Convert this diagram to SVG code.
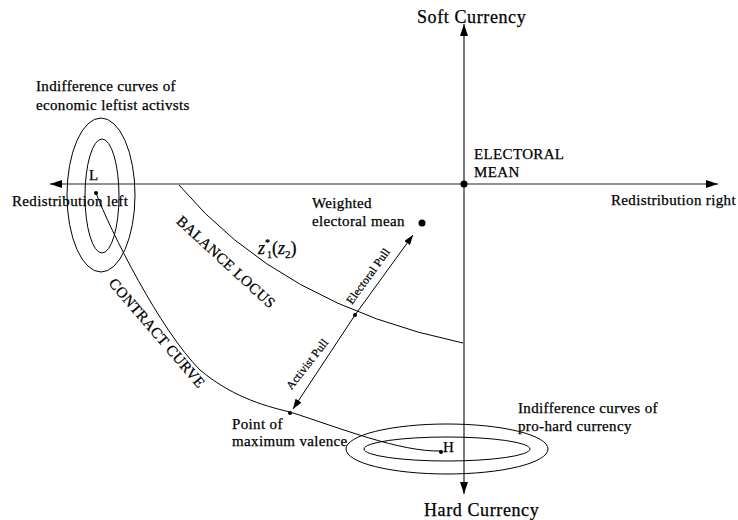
<svg xmlns="http://www.w3.org/2000/svg" width="738" height="520" viewBox="0 0 738 520">
<style>
text{font-family:"Liberation Serif","DejaVu Serif",serif;fill:#000;stroke:#000;stroke-width:0.25}
.t{font-size:15px;letter-spacing:0.35px}
.h{font-size:18px;letter-spacing:0.6px}
.s{font-size:11.5px;letter-spacing:0.2px}
.ax{stroke:#222;stroke-width:1.2;fill:none}
.c{stroke:#000;stroke-width:1;fill:none}
</style>
<defs>
<marker id="ah" markerWidth="12" markerHeight="8" refX="12" refY="4" orient="auto" markerUnits="userSpaceOnUse"><path d="M0,0L12,4L0,8Z" fill="#000"/></marker>
<marker id="sh" markerWidth="10" markerHeight="7" refX="10" refY="3.5" orient="auto" markerUnits="userSpaceOnUse"><path d="M0,0L10,3.5L0,7Z" fill="#000"/></marker>
</defs>
<g id="connectors">
<line class="ax" x1="464" y1="184" x2="50" y2="184" marker-end="url(#ah)"/>
<line class="ax" x1="464" y1="184" x2="718" y2="184" marker-end="url(#ah)"/>
<line class="ax" x1="464" y1="184" x2="464" y2="24" marker-end="url(#ah)"/>
<line class="ax" x1="464" y1="184" x2="464" y2="494" marker-end="url(#ah)"/>
<path id="contract" class="c" d="M96,193 C110,230 160,330 200,370 C230,395 260,405 290,412 C340,428 400,452 441,451"/>
<path id="balance" class="c" d="M179,185 Q280,305 463,343"/>
<line class="c" x1="355" y1="315" x2="413" y2="235" marker-end="url(#sh)"/>
<line class="c" x1="355" y1="315" x2="293" y2="409" marker-end="url(#sh)"/>
</g>
<g id="axis-labels">
<text class="h" x="417" y="23">Soft Currency</text>
<text class="h" x="424" y="516">Hard Currency</text>
<text class="t" x="12" y="206">Redistribution left</text>
<text class="t" x="611" y="205">Redistribution right</text>
</g>
<g id="electoral-mean">
<circle cx="464" cy="184" r="3.5" fill="#000"/>
<text class="t" x="474" y="159">ELECTORAL</text>
<text class="t" x="474" y="177">MEAN</text>
</g>
<g id="leftist">
<ellipse class="c" cx="101" cy="195" rx="34" ry="77"/>
<ellipse class="c" cx="102" cy="196" rx="17" ry="57"/>
<circle cx="96" cy="193" r="2" fill="#000"/>
<text class="t" x="89" y="180">L</text>
<text class="t" x="36" y="91">Indifference curves of</text>
<text class="t" x="36" y="110">economic leftist activsts</text>
</g>
<g id="hard">
<ellipse class="c" cx="447" cy="449" rx="101" ry="25"/>
<ellipse class="c" cx="447" cy="449" rx="83" ry="12"/>
<circle cx="441" cy="452" r="2" fill="#000"/>
<text class="t" x="443" y="452">H</text>
<text class="t" x="518" y="413">Indifference curves of</text>
<text class="t" x="518" y="431">pro-hard currency</text>
</g>
<g id="weighted-mean">
<circle cx="422" cy="223" r="3.5" fill="#000"/>
<text class="t" x="312" y="208">Weighted</text>
<text class="t" x="312" y="226">electoral mean</text>
</g>
<g id="balance-point">
<circle cx="355" cy="315" r="2" fill="#000"/>
</g>
<g id="max-valence">
<circle cx="290" cy="413" r="2" fill="#000"/>
<text class="t" x="232" y="429">Point of</text>
<text class="t" x="232" y="446">maximum valence</text>
</g>
<g id="curve-labels">
<text class="t" transform="translate(226,262) rotate(42.6)" x="0" y="5" text-anchor="middle">BALANCE LOCUS</text>
<text class="t" transform="translate(157,333) rotate(49.4)" x="0" y="5" text-anchor="middle">CONTRACT CURVE</text>
<text style="font-size:18px;font-style:italic" x="258" y="254">z<tspan style="font-size:10px;font-style:normal" dy="-8">*</tspan></text>
<text style="font-size:18px;font-style:italic" x="267" y="254"><tspan style="font-size:10px;font-style:normal" dy="4">1</tspan><tspan dy="-4" style="font-style:normal">(</tspan>z<tspan style="font-size:11px;font-style:normal" dy="4">2</tspan><tspan dy="-4" style="font-style:normal">)</tspan></text>
<text class="s" transform="translate(368,276) rotate(-54)" x="0" y="4" text-anchor="middle">Electoral Pull</text>
<text class="s" transform="translate(307,364) rotate(-52)" x="0" y="4" text-anchor="middle">Activist Pull</text>
</g>
</svg>
